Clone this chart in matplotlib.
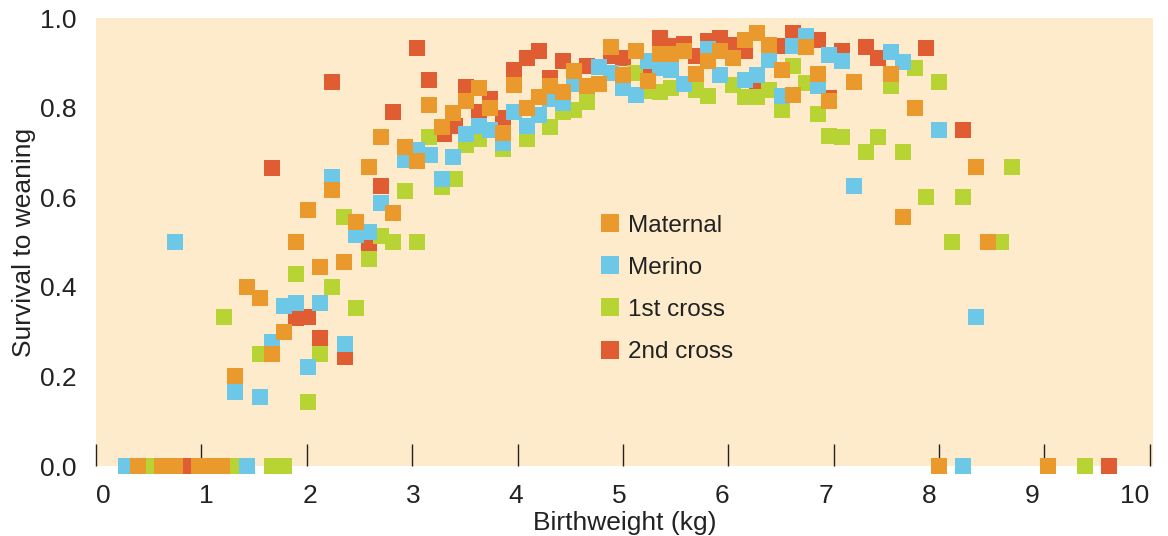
import numpy as np
import matplotlib.pyplot as plt

plt.rcParams['font.family'] = ['Liberation Sans', 'DejaVu Sans']

# birthweight (kg) and survival to weaning
maternal_x = [0.40, 0.63, 0.75, 0.98, 1.09, 1.20, 8.00, 9.03,
              1.32, 1.43, 1.56, 1.67, 1.78, 1.90, 2.01, 2.13, 2.24, 2.35, 2.47, 2.59,
              2.70, 2.82, 2.93, 3.05, 3.16, 3.28, 3.39, 3.51, 3.63, 3.74, 3.86, 3.97,
              4.09, 4.20, 4.31, 4.43, 4.54, 4.66, 4.77, 4.89, 5.00, 5.12, 5.24, 5.35,
              5.46, 5.58, 5.69, 5.81, 5.92, 6.04, 6.16, 6.27, 6.39, 6.51, 6.61, 6.74,
              6.85, 6.96, 7.19, 7.54, 7.66, 7.77, 8.35, 8.46]
maternal_y = [0, 0, 0, 0, 0, 0, 0, 0,
              0.20, 0.40, 0.375, 0.25, 0.30, 0.50, 0.571, 0.445, 0.616, 0.455, 0.545, 0.667,
              0.734, 0.565, 0.712, 0.68, 0.806, 0.757, 0.787, 0.815, 0.844, 0.80, 0.743, 0.851,
              0.80, 0.823, 0.849, 0.835, 0.882, 0.848, 0.853, 0.935, 0.873, 0.926, 0.859, 0.92,
              0.92, 0.926, 0.875, 0.904, 0.926, 0.91, 0.951, 0.966, 0.94, 0.884, 0.828, 0.935,
              0.875, 0.815, 0.857, 0.875, 0.556, 0.80, 0.667, 0.50]

merino_x = [0.28, 1.43, 8.23,
            0.75, 1.32, 1.56, 1.67, 1.78, 1.90, 2.01, 2.13, 2.24, 2.36, 2.47, 2.59, 2.70,
            2.93, 3.05, 3.17, 3.28, 3.39, 3.51, 3.63, 3.74, 3.86, 3.97, 4.09, 4.20, 4.31,
            4.43, 4.54, 4.77, 4.89, 5.00, 5.12, 5.24, 5.35, 5.46, 5.58, 5.81, 5.92, 6.16,
            6.27, 6.39, 6.51, 6.61, 6.74, 6.85, 6.96, 7.08, 7.19, 7.54, 7.66, 8.00, 8.35]
merino_y = [0, 0, 0,
            0.50, 0.166, 0.153, 0.277, 0.357, 0.363, 0.222, 0.363, 0.645, 0.272, 0.516, 0.522, 0.587,
            0.683, 0.705, 0.694, 0.64, 0.69, 0.74, 0.76, 0.75, 0.72, 0.79, 0.76, 0.783, 0.82,
            0.81, 0.853, 0.89, 0.877, 0.844, 0.828, 0.904, 0.888, 0.884, 0.853, 0.93, 0.873, 0.862,
            0.873, 0.906, 0.826, 0.937, 0.96, 0.848, 0.917, 0.904, 0.625, 0.925, 0.902, 0.75, 0.333]

cross1_x = [0.52, 1.32, 1.67, 1.78, 9.38,
            1.21, 1.56, 1.90, 2.01, 2.13, 2.24, 2.35, 2.47, 2.59, 2.70, 2.82, 2.93, 3.05,
            3.16, 3.28, 3.41, 3.51, 3.63, 3.86, 4.09, 4.31, 4.43, 4.54, 4.66, 5.11, 5.24,
            5.35, 5.46, 5.69, 5.81, 6.04, 6.16, 6.27, 6.39, 6.51, 6.61, 6.74, 6.85, 6.96,
            7.08, 7.31, 7.42, 7.54, 7.66, 7.77, 7.88, 8.00, 8.12, 8.23, 8.59, 8.69]
cross1_y = [0, 0, 0, 0, 0,
            0.333, 0.25, 0.428, 0.143, 0.25, 0.40, 0.556, 0.353, 0.462, 0.514, 0.50, 0.614, 0.50,
            0.734, 0.623, 0.64, 0.716, 0.73, 0.708, 0.73, 0.757, 0.79, 0.795, 0.812, 0.877, 0.837,
            0.835, 0.844, 0.84, 0.826, 0.85, 0.824, 0.824, 0.84, 0.795, 0.893, 0.855, 0.786, 0.736,
            0.734, 0.70, 0.734, 0.848, 0.70, 0.888, 0.60, 0.857, 0.50, 0.60, 0.50, 0.667]

cross2_x = [0.86, 9.61,
            1.67, 1.90, 2.01, 2.13, 2.24, 2.36, 2.59, 2.70, 2.82, 3.05, 3.16, 3.30, 3.41,
            3.51, 3.63, 3.74, 3.86, 3.97, 4.09, 4.20, 4.31, 4.43, 4.66, 4.89, 5.00, 5.24,
            5.35, 5.46, 5.58, 5.69, 5.81, 5.92, 6.04, 6.16, 6.27, 6.51, 6.61, 6.85, 6.96,
            7.08, 7.31, 7.42, 7.88, 8.23]
cross2_y = [0, 0,
            0.666, 0.33, 0.333, 0.286, 0.857, 0.244, 0.495, 0.625, 0.79, 0.933, 0.861, 0.74, 0.76,
            0.846, 0.79, 0.82, 0.777, 0.884, 0.91, 0.926, 0.866, 0.904, 0.893, 0.915, 0.91, 0.877,
            0.955, 0.937, 0.942, 0.915, 0.949, 0.955, 0.94, 0.926, 0.848, 0.937, 0.966, 0.951, 0.821,
            0.926, 0.935, 0.91, 0.933, 0.75]

xticks = list(range(11))

fig = plt.figure(figsize=(11.68, 5.36), dpi=100)
ax = fig.add_axes([96/1168, 70/536, 1057/1168, 448/536])
ax.set_facecolor('#FDEBCB')
for s in ax.spines.values():
    s.set_visible(False)

ax.set_yticks([0.2, 0.4, 0.6, 0.8], minor=True)
ax.grid(True, which='minor', axis='y', color='white', lw=2)
ax.set_axisbelow(True)

ms = 11
kw = dict(ms=ms, mew=0, clip_on=False, linestyle='none', marker='s')
ax.plot(cross2_x, cross2_y, color='#E05D33', label='2nd cross', zorder=3, **kw)
ax.plot(cross1_x, cross1_y, color='#B8D334', label='1st cross', zorder=4, **kw)
ax.plot(merino_x, merino_y, color='#6DC8E8', label='Merino', zorder=5, **kw)
ax.plot(maternal_x, maternal_y, color='#EA9A2D', label='Maternal', zorder=6, **kw)

ax.set_xlim(0, 10.03)
ax.set_ylim(0, 1.0)
# tick marks at the integers, labels drift slightly as in the original artwork
ax.set_xticks(xticks, minor=True)
ax.set_xticks([0.07 + 0.979 * k for k in xticks])
ax.set_xticklabels([str(k) for k in xticks])
ax.tick_params(axis='x', which='minor', direction='in', length=16, width=1, color='#222222')
ax.tick_params(axis='x', which='major', length=0, labelsize=19, pad=13, labelcolor='#222222')
ax.set_yticks([0, 0.2, 0.4, 0.6, 0.8, 1.0])
ax.set_yticklabels(['0.0', '0.2', '0.4', '0.6', '0.8', '1.0'])
ax.tick_params(axis='y', which='both', length=0, labelsize=19, pad=14, labelcolor='#222222')
ax.set_xlabel('Birthweight (kg)', fontsize=19, labelpad=2, color='#222222')
ax.set_ylabel('Survival to weaning', fontsize=19, labelpad=3, color='#222222')

h, l = ax.get_legend_handles_labels()
ax.legend(h[::-1], l[::-1], loc='upper left', bbox_to_anchor=(0.456, 0.61),
          frameon=False, fontsize=17.5, handlelength=0.8, handletextpad=0.35,
          labelspacing=0.83, markerscale=1.15, labelcolor='#222222')

fig.savefig('out.png', dpi=100)
